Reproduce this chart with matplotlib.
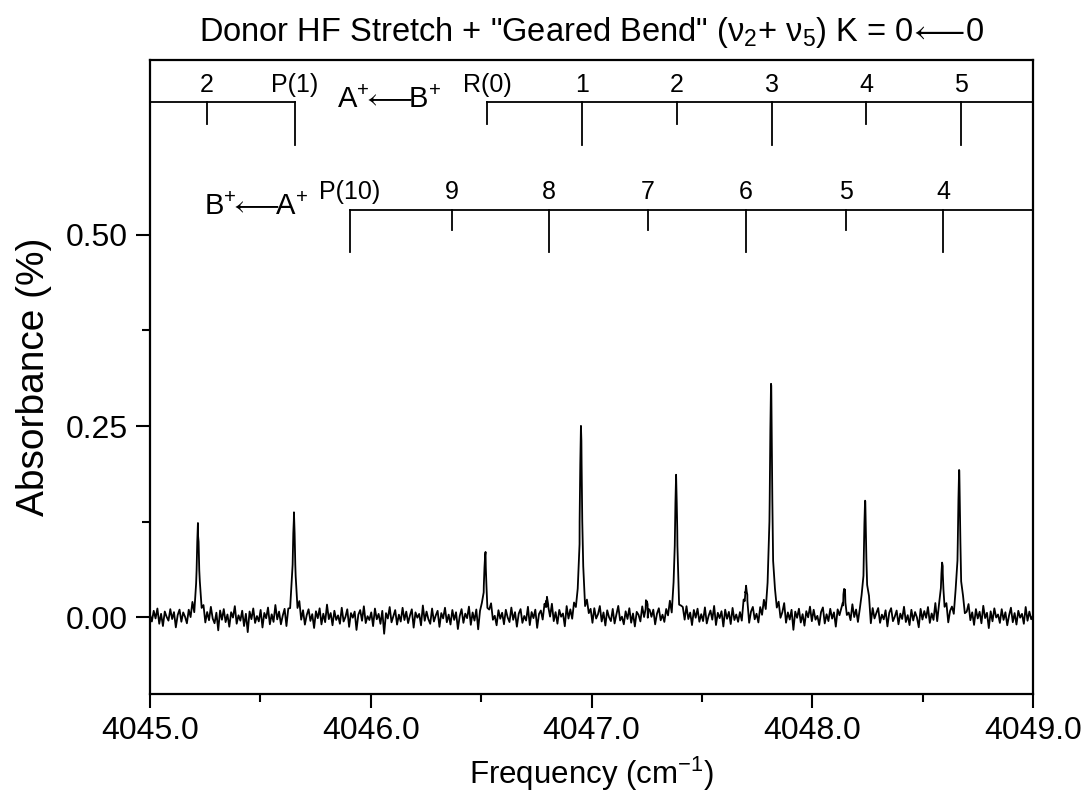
import numpy as np
import matplotlib
matplotlib.use("Agg")
import matplotlib.pyplot as plt
from matplotlib.ticker import MultipleLocator, FixedLocator

plt.rcParams.update({
    "font.family": ["Liberation Sans", "DejaVu Sans"],
    "mathtext.fontset": "custom",
    "mathtext.rm": "Liberation Sans",
    "mathtext.it": "Liberation Sans:italic",
    "mathtext.sf": "Liberation Sans",
})

# ----------------------------------------
# Peaks (cm-1, absorbance %)
# ----------------------------------------
peak_pos = [4045.217, 4045.652, 4046.518, 4046.798, 4046.952, 4047.251, 4047.383,
            4047.700, 4047.813, 4048.144, 4048.239, 4048.588, 4048.665]
peak_height = [0.123, 0.137, 0.081, 0.026, 0.250, 0.020, 0.186,
               0.040, 0.305, 0.036, 0.152, 0.070, 0.192]
peak_fwhm = 0.012

# baseline noise, in units of 1e-3 %, left to right
baseline_noise = [
    3, -6, 8, -2, 11, -9, 4, -12, 7, 0, -5, 10, -3, 6, -14, 2, 9, -7, 5, -1,
    -10, 7, -4, 13, -8, 1, -15, 6, -2, 9, -11, 4, -6, 12, -3, -9, 5, -18, 8, -4,
    10, -7, 3, -13, 6, -1, 14, -9, 2, -5, 8, -12, 4, -20, 7, -3, 11, -8, 1, -6,
    9, -14, 5, -2, 12, -10, 3, -7, 15, -4, 6, -11, 0, 8, -16, 4, -3, 10, -9, 2,
    -5, 13, -8, 6, -12, 1, 9, -6, 3, -15, 7, -2, 11, -10, 4, -7, 16, -3, 5, -11,
    8, -4, 2, -9, 12, -6, 0, 10, -13, 5, -1, 7, -17, 3, 9, -5, 14, -8, 1, -4,
    6, -12, 11, -3, 4, -9, 8, -22, 5, -2, 13, -7, 1, 9, -10, 3, -6, 12, -4, 7,
    -8, 2, 10, -14, 6, -1, 4, -11, 15, -5, 7, -3, -9, 11, -6, 2, 8, -13, 5, -2,
    12, -7, 3, -10, 9, -4, 6, -16, 1, 10, -8, 4, -2, 13, -11, 5, -6, 8, -19, 3,
    7, -5, 11, -9, 2, 14, -6, 0, -12, 8, -3, 5, -10, 9, -1, -7, 12, -4, 6, -13,
    4, 10, -8, 1, -5, 13, -11, 6, -2, 9, -15, 3, 7, -6, 11, -9, 2, -4, 15, -7,
    5, -10, 8, -1, 3, -14, 12, -5, 6, -8, 10, -3, 1, -24, 7, 4, -9, 11, -2, 6,
    -11, 9, -4, 2, 13, -7, 5, -12, 8, -1, -6, 10, -9, 3, 14, -5, 0, -10, 7, -3,
    11, -8, 4, -13, 6, 2, -7, 12, -4, 9, -16, 5, -2, 8, -11, 3, 10, -6, 1, -9,
    7, -3, 13, -10, 5, -1, 9, -14, 2, 6, -8, 11, -5, 4, -12, 8, -2, 10, -7, 3,
    -6, 12, -9, 1, 8, -4, 14, -11, 5, -2, 7, -13, 9, -3, 6, -10, 11, -5, 2, -8,
    4, -9, 13, -2, 7, -15, 3, 10, -6, 1, -11, 8, -4, 12, -8, 5, -1, 9, -13, 6,
    -3, 11, -7, 2, 15, -10, 4, -5, 8, -18, 6, -2, 10, -8, 3, -12, 7, -1, 13, -6,
    9, -4, 1, -11, 6, 12, -9, 3, -6, 10, -3, 5, -14, 8, -1, 4, -10, 11, -5, 2,
    -7, 14, -3, 6, -12, 1, 9, -8, 4, -2, 12, -16, 7, -5, 3, 10, -9, 2, -4, 8,
    -13, 5, 11, -6, 0, 8, -10, 4, -3, 13, -7, 2, -11, 9, -5, 6, -1, -14, 10, -4,
    7, -2, 12, -9, 3, -6, 15, -11, 5, -1, 8, -4, 10, -13, 2, 6, -8, 11, -3, 4,
    -10, 8, -5, 1, 13, -7, 4, -12, 9, -3, 6, -9, 14, -2, 5, -15, 7, -6, 11, -1,
    3, -8, 10, -4, 6, -11, 2, 12, -7, 5, -10, 8, -1, 4, -9, 13, -5, 7, -3, 2,
]

# ----------------------------------------
# Assignment ladders
# ----------------------------------------
ab_pos = [4045.258, 4045.657, 4046.527, 4046.957, 4047.387, 4047.818, 4048.243, 4048.674]
ab_labels = ["2", "P(1)", "R(0)", "1", "2", "3", "4", "5"]
ab_long = [False, True, False, True, False, True, False, True]

ba_pos = [4045.906, 4046.368, 4046.807, 4047.256, 4047.700, 4048.153, 4048.592]
ba_labels = ["P(10)", "9", "8", "7", "6", "5", "4"]
ba_long = [True, False, True, False, True, False, True]

x_lo, x_hi = 4045.0, 4049.0

# ----------------------------------------
# Build trace: baseline samples + peak centres
# ----------------------------------------
x_base = np.linspace(x_lo, x_hi, len(baseline_noise))
offsets = np.array([-0.006, -0.003, 0.0, 0.003, 0.006])
x_extra = (np.array(peak_pos)[:, None] + offsets[None, :]).ravel()
x_all = np.concatenate([x_base, x_extra])
noise_all = np.concatenate([np.array(baseline_noise) * 1e-3, np.zeros(len(x_extra))])
order = np.argsort(x_all)
x_all = x_all[order]
y_all = noise_all[order].copy()
for c, h in zip(peak_pos, peak_height):
    y_all += h / (1.0 + ((x_all - c) / (peak_fwhm / 2.0)) ** 2)

fig = plt.figure(figsize=(10.84, 7.96), dpi=100)
ax = fig.add_axes([0.1384, 0.1281, 0.8146, 0.7965])
ax.plot(x_all, y_all, color="black", lw=1.3)

ax.set_xlim(x_lo, x_hi)
ax.set_ylim(-0.1008, 0.729)

LAB_FS = 18


def ladder(pos, labels, longs, y_line, y_long, y_short, x_start, y_text):
    ax.plot([x_start, x_hi], [y_line, y_line], color="black", lw=1.3)
    for p, lab, lg in zip(pos, labels, longs):
        ax.plot([p, p], [y_line, y_long if lg else y_short], color="black", lw=1.3)
        ax.text(p, y_text, lab, ha="center", va="bottom", fontsize=LAB_FS)


# A+ <- B+ ladder: two pieces, broken around its label
ax.plot([x_lo, ab_pos[1]], [0.674, 0.674], color="black", lw=1.3)
ax.plot([ab_pos[1], ab_pos[1]], [0.674, 0.618], color="black", lw=1.3)
ax.plot([ab_pos[0], ab_pos[0]], [0.674, 0.645], color="black", lw=1.3)
for p, lab in zip(ab_pos[:2], ab_labels[:2]):
    ax.text(p, 0.680, lab, ha="center", va="bottom", fontsize=LAB_FS)
ladder(ab_pos[2:], ab_labels[2:], ab_long[2:], 0.674, 0.618, 0.645, ab_pos[2], 0.680)
ladder(ba_pos, ba_labels, ba_long, 0.533, 0.478, 0.506, ba_pos[0], 0.541)

ax.text(4046.083, 0.677, r"A$^{+}\!\!\longleftarrow\!\!$B$^{+}$",
        ha="center", va="center", fontsize=21)
ax.text(4045.48, 0.537, r"B$^{+}\!\!\longleftarrow\!\!$A$^{+}$",
        ha="center", va="center", fontsize=21)

# ticks
ax.xaxis.set_major_locator(MultipleLocator(1.0))
ax.xaxis.set_minor_locator(MultipleLocator(0.5))
ax.xaxis.set_major_formatter(plt.FuncFormatter(lambda v, _: f"{v:.1f}"))
ax.yaxis.set_major_locator(FixedLocator([0.0, 0.25, 0.5]))
ax.yaxis.set_minor_locator(FixedLocator([0.125, 0.375]))
ax.yaxis.set_major_formatter(plt.FuncFormatter(lambda v, _: f"{v:.2f}"))
ax.tick_params(which="both", direction="out", top=False, right=False, width=1.5)
ax.tick_params(which="major", length=10, labelsize=23, pad=6)
ax.tick_params(which="minor", length=6)
for s in ax.spines.values():
    s.set_linewidth(1.6)

ax.set_xlabel("Frequency (cm$^{-1}$)", fontsize=22.5, labelpad=6)
ax.set_ylabel("Absorbance (%)", fontsize=28, labelpad=10)
ax.set_title('Donor HF Stretch + "Geared Bend" (\u03bd$_{2}$+ \u03bd$_{5}$) K = 0$\\!\\longleftarrow\\!$0',
             fontsize=23.5, pad=14)

fig.savefig("out.png", dpi=100)
